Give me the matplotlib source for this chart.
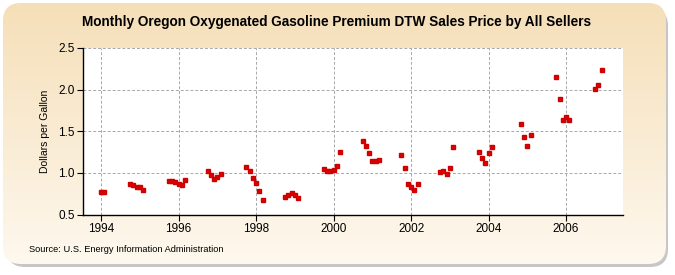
import numpy as np
import matplotlib
matplotlib.use("Agg")
import matplotlib.pyplot as plt
from matplotlib.patches import FancyBboxPatch

plt.rcParams["font.family"] = ["Liberation Sans", "DejaVu Sans"]

# Data: (year, month) and price in $/gal
months = ["1994-01", "1994-02",
          "1994-10", "1994-11", "1994-12", "1995-01", "1995-02",
          "1995-10", "1995-11", "1995-12", "1996-01", "1996-02", "1996-03",
          "1996-10", "1996-11", "1996-12", "1997-01", "1997-02",
          "1997-10", "1997-11", "1997-12", "1998-01", "1998-02", "1998-03",
          "1998-10", "1998-11", "1998-12", "1999-01", "1999-02",
          "1999-10", "1999-11", "1999-12", "2000-01", "2000-02", "2000-03",
          "2000-10", "2000-11", "2000-12", "2001-01", "2001-02", "2001-03",
          "2001-10", "2001-11", "2001-12", "2002-01", "2002-02", "2002-03",
          "2002-10", "2002-11", "2002-12", "2003-01", "2003-02",
          "2003-10", "2003-11", "2003-12", "2004-01", "2004-02",
          "2004-11", "2004-12", "2005-01", "2005-02",
          "2005-10", "2005-11", "2005-12", "2006-01", "2006-02",
          "2006-10", "2006-11", "2006-12"]
prices = [0.77, 0.77,
          0.87, 0.86, 0.83, 0.83, 0.80,
          0.90, 0.90, 0.89, 0.87, 0.85, 0.91,
          1.02, 0.97, 0.93, 0.95, 0.99,
          1.07, 1.02, 0.94, 0.88, 0.78, 0.68,
          0.71, 0.73, 0.76, 0.73, 0.70,
          1.05, 1.02, 1.02, 1.03, 1.08, 1.25,
          1.38, 1.32, 1.24, 1.14, 1.14, 1.16,
          1.21, 1.06, 0.87, 0.83, 0.79, 0.87,
          1.01, 1.02, 0.99, 1.06, 1.31,
          1.25, 1.18, 1.12, 1.24, 1.31,
          1.59, 1.43, 1.32, 1.45,
          2.15, 1.89, 1.64, 1.67, 1.64,
          2.01, 2.05, 2.23]
year_ticks = [1994, 1996, 1998, 2000, 2002, 2004, 2006]
y_ticks = [0.5, 1.0, 1.5, 2.0, 2.5]

x = np.array([int(m[:4]) + (int(m[5:]) - 1) / 12 for m in months])
y = np.array(prices)

W, H = 675, 275
fig = plt.figure(figsize=(W / 100, H / 100), dpi=100)
fig.patch.set_facecolor("white")

# background panel with gradient and shadow
bg = fig.add_axes([0, 0, 1, 1])
bg.set_xlim(0, W)
bg.set_ylim(H, 0)
bg.axis("off")
shadow = FancyBboxPatch((7, 8), W - 14, H - 16, boxstyle="round,pad=0,rounding_size=18",
                        facecolor="#b8b8b8", edgecolor="none", alpha=0.8)
bg.add_patch(shadow)
panel = FancyBboxPatch((3, 3), W - 12, H - 14, boxstyle="round,pad=0,rounding_size=18",
                       facecolor="none", edgecolor="none")
bg.add_patch(panel)
grad = np.linspace(0, 1, 256).reshape(-1, 1)
top = np.array([0xF5, 0xDF, 0xB8]) / 255
bot = np.array([0xFE, 0xF8, 0xEE]) / 255
img = top[None, None, :] * (1 - grad[:, :, None]) + bot[None, None, :] * grad[:, :, None]
im = bg.imshow(img, extent=(3, W - 9, H - 11, 3), aspect="auto", zorder=1)
im.set_clip_path(panel)

ax = fig.add_axes([83 / W, (H - 214.5) / H, (622.7 - 83) / W, (214.5 - 48) / H])
ax.set_facecolor("white")
ax.plot(x, y, linestyle="none", marker="s", markersize=2.7, color="#dd0000",
        markeredgecolor="#cc0000", zorder=3)
ax.set_xlim(1993.535, 2007.46)
ax.set_ylim(0.5, 2.5)
ax.set_xticks(year_ticks)
ax.set_xticklabels([str(t) for t in year_ticks])
ax.set_yticks(y_ticks)
ax.set_yticklabels([f"{t:.1f}" for t in y_ticks])
ax.grid(True, color="#a8a8a8", linestyle=(0, (3, 2)), linewidth=0.7)
ax.set_axisbelow(True)
for s in ["top", "right"]:
    ax.spines[s].set_visible(False)
for s in ["left", "bottom"]:
    ax.spines[s].set_linewidth(1.0)
    ax.spines[s].set_color("black")
ax.tick_params(axis="both", labelsize=8.5, length=4, width=0.8, direction="out", pad=2)
ax.set_ylabel("Dollars per Gallon", fontsize=7.5, labelpad=6)

fig.text(337 / W, (H - 22) / H, "Monthly Oregon Oxygenated Gasoline Premium DTW Sales Price by All Sellers",
         ha="center", va="center", fontsize=9.8, fontweight="bold")
fig.text(29 / W, (H - 250) / H, "Source: U.S. Energy Information Administration",
         ha="left", va="center", fontsize=6.7)

fig.savefig("out.png", dpi=100)
